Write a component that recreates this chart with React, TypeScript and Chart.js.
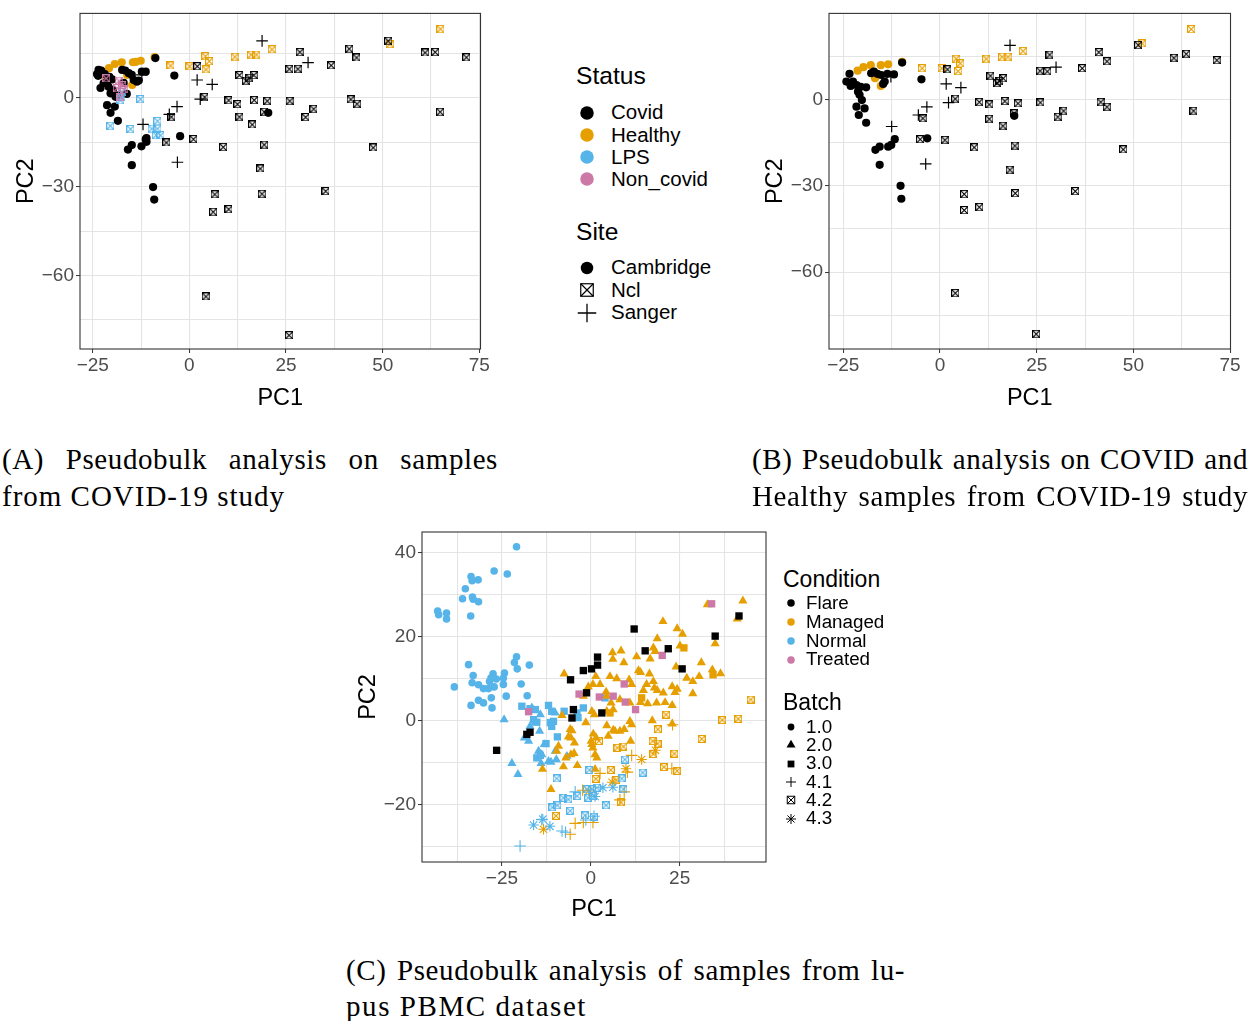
import React, { useEffect, useLayoutEffect, useRef } from 'react';
import { Chart, registerables } from 'chart.js';

Chart.register(...registerables);

type P = [number, number];

const BLACK = '#000000';
const ORANGE = '#E69F00';
const BLUE = '#56B4E9';
const PINK = '#CC79A7';

// ---------- Panel A : all samples ----------
const aCovidCambridge: P[] = [
  [-22.8, 9.3], [-23.6, 7.5], [-21.9, 8.1], [-20.7, 7.2], [-21.3, 5.5], [-20.0, 6.3], [-22.2, 5.0], [-20.9, 3.8],
  [-19.8, 2.7], [-20.4, 1.6], [-19.1, 0.4], [-21.3, -2.4], [-19.3, -2.9], [-20.4, -5.0], [-18.5, -7.7], [-16.6, 9.3],
  [-15.7, 8.4], [-14.9, 7.8], [-14.4, 6.1], [-13.1, 5.9], [-12.3, 8.9], [-11.3, 8.9], [-13.6, 5.5], [-8.8, 13.5],
  [-3.9, 7.6], [-2.4, -12.9], [-11.3, -14.0], [-12.4, -16.3], [-14.9, -15.9], [-15.9, -17.4], [-14.9, -22.7],
  [-18.7, 1.0], [-17.4, 9.5], [-23.9, 8.1], [-11.1, -14.8], [-11.1, -13.5], [-9.4, -30.1], [-9.1, -34.3],
  [20.4, -5.0], [-23.0, 3.4], [-23.5, 9.5], [-17.0, 5.1], [-16.2, 1.4],
];
const aHealthyCambridge: P[] = [
  [-20.8, 10.1], [-19.3, 11.5], [-17.5, 12.1], [-14.6, 12.1], [-12.6, 12.6], [-9.0, 13.8], [-16.1, 7.8],
  [-14.8, 4.4], [-22.2, 7.8], [-13.9, 12.2],
];
const aHealthyNcl: P[] = [
  [64.9, 23.4], [-4.9, 11.0], [0, 10.8], [4.1, 14.2], [5.1, 12.5], [4.2, 9.7], [11.7, 14.0], [15.9, 14.7],
  [17.3, 14.7], [21.3, 16.5], [51.8, 18.3],
];
const aCovidNcl: P[] = [
  [2.0, 10.8], [28.5, 15.6], [41.3, 16.7], [43.2, 13.7], [51.4, 19.4], [60.9, 15.4], [63.5, 15.6], [71.6, 13.8],
  [25.8, 9.9], [28.0, 9.9], [36.6, 11.1], [12.9, 7.8], [14.6, 5.9], [15.5, 6.9], [16.6, 7.8], [3.9, 0.4],
  [10.1, -0.7], [12.4, -2.0], [16.7, -0.6], [20.1, -0.9], [25.9, -0.9], [41.7, -0.4], [43.3, -1.9], [64.8, -4.6],
  [19.3, -4.6], [32.1, -3.6], [30.0, -6.4], [12.9, -6.3], [16.2, -8.9], [-4.7, -6.3], [-6.0, -15.0], [1.0, -13.8],
  [8.7, -16.5], [19.3, -15.7], [47.5, -16.7], [18.3, -23.8], [6.5, -32.5], [18.7, -32.3], [35.2, -31.4],
  [6.1, -38.4], [10.1, -37.5], [4.2, -67.0], [25.7, -80.1],
];
const aCovidSanger: P[] = [
  [18.8, 19.3], [30.7, 12.0], [2.0, 6.1], [5.9, 4.6], [2.8, -0.4], [-3.2, -2.9], [-5.2, -5.5], [-12.0, -8.9],
  [-3.1, -21.7], [-12.3, 7.8],
];
const aLpsNcl: P[] = [
  [-12.7, -0.3], [-20.5, -9.3], [-15.3, -10.4], [-8.3, -7.7], [-9.8, -10.3], [-8.3, -10.3], [-8.7, -12.5],
  [-7.5, -12.5], [-17.5, 2.1], [-17.7, 0.2], [-17.9, -0.7],
];
const aNonCovidNcl: P[] = [
  [-18.3, 5.9], [-17.4, 4.4], [-17.0, 2.9], [-17.9, 0.4], [-21.6, 6.7], [-18.8, 3.4],
];

// ---------- Panel B : COVID and Healthy ----------
const bCovidCambridge: P[] = [
  [-23.4, 8.9], [-24.2, 6.2], [-22.5, 6.2], [-23.1, 4.7], [-21.6, 5.0], [-20.5, 4.4], [-19.1, 4.2], [-21.2, 2.7],
  [-20.8, 1.6], [-20.2, -0.2], [-21.6, -2.5], [-19.5, -3.1], [-21.0, -5.4], [-19.1, -8.1], [-17.8, 9.1],
  [-17.1, 9.7], [-16.2, 8.9], [-15.2, 8.5], [-13.6, 8.9], [-11.9, 8.7], [-14.3, 6.2], [-14.7, 5.4], [-9.8, 12.8],
  [-4.8, 7.0], [-3.3, -13.5], [-11.7, -13.8], [-12.6, -15.8], [-13.4, -16.4], [-15.6, -16.4], [-16.7, -17.5],
  [-15.6, -22.7], [-10.2, -30.0], [-10.0, -34.5], [19.2, -5.7],
];
const bHealthyCambridge: P[] = [
  [-21.3, 10.0], [-19.8, 11.2], [-17.9, 11.9], [-15.3, 11.9], [-13.4, 12.2], [-9.8, 13.1], [-16.8, 7.4], [-15.3, 4.7],
];
const bHealthyNcl: P[] = [
  [64.9, 24.5], [-4.7, 10.9], [0.4, 10.9], [4.1, 14.2], [5.2, 12.6], [4.6, 9.9], [11.9, 14.2], [16.0, 14.9],
  [17.5, 14.9], [21.4, 16.9], [52.2, 19.5],
];
const bCovidNcl: P[] = [
  [1.9, 10.5], [28.3, 15.6], [41.0, 16.5], [43.1, 13.3], [51.2, 19.0], [60.4, 14.5], [63.6, 15.9], [71.5, 13.7],
  [25.8, 10.0], [27.7, 9.8], [36.7, 10.9], [13.0, 8.3], [14.7, 5.8], [15.3, 6.5], [16.3, 7.4], [3.9, 0.3],
  [10.1, -0.8], [12.7, -1.7], [16.7, -0.5], [20.1, -1.3], [25.9, -1.0], [41.5, -0.8], [43.1, -2.5], [65.5, -3.9],
  [19.1, -4.8], [31.9, -3.9], [30.4, -6.0], [12.7, -6.7], [16.2, -9.1], [-4.5, -6.5], [-5.2, -13.8], [1.2, -14.0],
  [8.8, -16.6], [19.3, -16.0], [47.3, -17.3], [18.0, -24.4], [6.2, -32.8], [19.4, -32.5], [34.9, -31.8],
  [6.2, -38.4], [10.1, -37.3], [3.9, -67.2], [24.8, -81.4],
];
const bCovidSanger: P[] = [
  [18.1, 18.8], [30.0, 11.2], [1.6, 5.4], [5.4, 4.1], [2.2, -1.1], [-3.4, -2.6], [-5.6, -5.4], [-12.5, -9.4],
  [-3.7, -22.4], [-12.7, 7.9],
];

// ---------- Panel C : lupus PBMC ----------
const cNormal10: P[] = [
  [-20.9, 41.4], [-27.2, 35.6], [-23.5, 34.9], [-33.7, 34.3], [-31.7, 33.5], [-33.4, 33.3], [-35.3, 31.4],
  [-36.1, 29.0], [-33.3, 29.4], [-33.1, 28.9], [-31.6, 28.3], [-43.1, 26.1], [-40.6, 25.6], [-42.8, 25.2],
  [-40.6, 24.2], [-33.8, 24.9], [-20.9, 15.2], [-21.5, 13.8], [-34.4, 13.3], [-17.3, 13.2], [-20.7, 12.3],
  [-33.1, 10.7], [-27.5, 11.1], [-24.3, 11.3], [-28.1, 10.1], [-26.6, 9.9], [-24.6, 10.1], [-33.4, 9.0],
  [-31.6, 8.5], [-30.2, 7.6], [-28.8, 7.6], [-28.5, 9.3], [-27.2, 8.0], [-24.6, 8.6], [-19.6, 8.7], [-38.4, 8.0],
  [-23.8, 5.8], [-17.9, 5.9], [-28.0, 5.4], [-31.6, 4.8], [-33.7, 3.6], [-30.2, 4.2], [-27.8, 3.0],
];
const cFlare30: P[] = [
  [12.2, 21.8], [15.3, 16.6], [21.8, 17.1], [1.9, 15.1], [1.9, 13.2], [0.2, 12.3], [-2.1, 11.9], [-5.7, 9.7],
  [-1.2, 6.6], [25.7, 12.3], [35.0, 20.1], [41.7, 24.9], [-4.9, 2.6], [-5.3, 0.6], [3.1, 1.8], [-17.1, -2.8],
  [-18.0, -3.3], [-26.5, -7.1],
];
const cTreated30: P[] = [
  [34.0, 27.8], [20.1, 15.5], [9.4, 8.7], [-3.3, 6.3], [2.4, 5.6], [6.3, 5.8], [9.7, 4.4], [12.6, 2.6], [-17.5, 2.1],
];
const cManaged30: P[] = [[26.2, 17.3], [34.4, 10.9], [14.3, 5.4], [5.4, 1.8]];
const cManaged20: P[] = [
  [42.8, 28.5], [32.8, 27.6], [41.2, 24.2], [20.3, 23.6], [24.3, 21.9], [25.8, 20.6], [18.7, 19.5], [35.0, 18.3],
  [25.1, 17.8], [17.6, 17.3], [18.1, 16.5], [6.1, 16.2], [8.5, 16.6], [12.9, 15.2], [16.7, 14.7], [6.2, 14.6],
  [9.3, 13.8], [31.1, 13.8], [24.0, 12.8], [13.4, 11.9], [14.0, 11.5], [16.5, 11.1], [34.2, 12.1], [36.5, 11.2],
  [30.5, 10.5], [27.0, 10.1], [28.7, 9.3], [5.4, 10.5], [7.3, 10.0], [1.4, 10.5], [-7.5, 11.1], [10.8, 9.7],
  [11.5, 8.6], [15.7, 8.6], [17.6, 9.3], [17.9, 7.8], [18.7, 7.2], [20.4, 6.6], [22.9, 8.1], [24.3, 7.5],
  [23.7, 6.7], [28.7, 6.4], [-0.7, 8.0], [0.6, 8.6], [2.6, 8.6], [4.3, 6.8], [-2.1, 5.8], [4.5, 5.8], [14.8, 7.2],
  [8.2, 5.0], [11.0, 4.2], [14.0, 4.3], [16.0, 4.0], [18.5, 4.2], [20.9, 4.3], [22.9, 3.6], [5.7, 4.2], [6.3, 2.6],
  [4.5, 2.2], [0.3, 2.2], [1.0, 1.4], [-8.1, 1.2], [-1.4, -0.5], [-5.3, -2.4], [-6.3, -3.9], [0.7, -3.2],
  [4.5, -1.2], [6.3, -2.3], [8.2, -2.5], [9.4, -2.1], [11.0, -0.2], [11.5, -1.0], [17.3, 0.0], [22.9, -0.8],
  [0.1, -4.9], [1.5, -4.1], [4.9, -3.7], [11.2, -4.9], [-4.6, -5.3], [-9.1, -6.1], [0.6, -6.5], [1.2, -8.1],
  [-5.6, -8.1], [-4.7, -7.8], [1.7, -8.9], [-7.0, -8.9], [-9.6, -7.3], [-3.8, -10.7], [-7.7, -11.0],
  [-13.6, -11.6], [1.2, -11.6], [-11.2, -16.4], [-5.8, -2.1], [6.8, -2.5], [-5.6, -4.1], [0.3, -5.7],
];
const cNormal30: P[] = [
  [-19.4, 3.4], [-17.1, 2.8], [-15.6, 2.6], [-11.9, 3.6], [-11.0, 2.2], [-7.5, 2.2], [-3.9, 1.8], [-2.1, 3.0],
  [-16.1, 0.2], [-15.2, -0.4], [-11.4, -0.5], [-10.5, -0.2], [-11.0, -1.4], [-9.4, -3.9], [-12.6, -5.5],
  [-15.2, -8.9], [-14.2, -8.3], [4.0, 5.4], [-3.6, 0.7],
];
const cNormal20: P[] = [
  [-24.4, 0.2], [-16.6, 3.0], [-14.2, 1.4], [-15.6, -0.5], [-17.1, -1.4], [-14.4, -2.5], [-18.7, -4.1],
  [-17.5, -4.9], [-14.7, -7.3], [-13.8, -8.1], [-10.0, -7.3], [-9.7, -9.3], [-11.9, -9.7], [-14.0, -10.2],
  [-11.2, -9.9], [-22.2, -10.2], [-20.5, -12.8], [-10.0, 1.8], [-6.7, -8.5], [-13.1, -5.7],
];
const cNormal42: P[] = [
  [9.6, -9.3], [14.6, -12.4], [-0.4, -11.8], [-9.6, -13.8], [8.7, -13.8], [9.2, -16.4], [-3.8, -18.0],
  [-1.1, -16.4], [0.3, -16.4], [-7.7, -18.4], [-6.3, -18.8], [4.3, -20.2], [-10.8, -20.7], [-9.4, -20.2],
  [-5.8, -21.5], [-1.6, -22.6], [0.9, -22.9], [0.7, -18.0], [-0.7, -18.4], [1.7, -16.0],
];
const cManaged42: P[] = [
  [45.0, 5.0], [41.5, 0.4], [37.0, 0.1], [31.2, -4.4], [21.2, 1.4], [18.9, -2.1], [17.4, -4.9], [18.8, -5.5],
  [17.6, -8.0], [23.5, -7.9], [20.6, -11.1], [24.3, -12.0], [7.5, -6.5], [9.2, -6.2], [2.3, -4.9], [5.6, -11.8],
  [1.4, -13.9], [7.2, -14.2], [8.5, -19.5], [-9.8, -22.7],
];
const cManaged41: P[] = [
  [23.0, -1.0], [11.5, -8.3], [10.3, -12.3], [22.8, -11.5], [2.6, -12.6], [-2.3, -16.6], [8.2, -18.9],
  [-4.4, -24.5], [-2.1, -24.3], [-5.8, -27.1], [0.6, -24.3], [9.4, -17.0],
];
const cNormal41: P[] = [
  [-19.9, -29.9], [-4.4, -17.0], [-13.8, -23.6], [-8.1, -26.3], [-7.1, -26.6], [0.9, -22.8], [-1.4, -23.7],
];
const cManaged43: P[] = [[14.3, -9.3], [9.9, -11.5], [18.2, -7.1], [-13.3, -25.9], [6.0, -14.7], [-0.6, -16.8]];
const cNormal43: P[] = [[-16.1, -24.9], [-11.5, -25.2], [3.4, -16.0], [1.2, -18.1], [6.2, -15.9], [-13.5, -23.5]];

// ---------- axes ----------
const abXTicks = [-25, -12.5, 0, 12.5, 25, 37.5, 50, 62.5, 75];
const abXLabels = [-25, 0, 25, 50, 75];
const abYTicks = [15, 0, -15, -30, -45, -60, -75];
const abYLabels = [0, -30, -60];
const cXTicks = [-37.5, -25, -12.5, 0, 12.5, 25, 37.5];
const cXLabels = [-25, 0, 25];
const cYTicks = [40, 30, 20, 10, 0, -10, -20, -30];
const cYLabels = [40, 20, 0, -20];

// ---------- legends ----------
const statusLabels = ['Covid', 'Healthy', 'LPS', 'Non_covid'];
const statusColors = [BLACK, ORANGE, BLUE, PINK];
const siteLabels = ['Cambridge', 'Ncl', 'Sanger'];
const conditionLabels = ['Flare', 'Managed', 'Normal', 'Treated'];
const batchLabels = ['1.0', '2.0', '3.0', '4.1', '4.2', '4.3'];

const SANS = '"Liberation Sans", Arial, sans-serif';
const SERIF = '"Liberation Serif", "Times New Roman", serif';

const fmt = (v: number) => (v < 0 ? '\u2212' + Math.abs(v) : String(v));

function boxX(color: string, size: number, lw: number) {
  const c = document.createElement('canvas');
  c.width = size;
  c.height = size;
  const g = c.getContext('2d')!;
  g.strokeStyle = color;
  g.lineWidth = lw;
  const h = lw / 2;
  g.strokeRect(h, h, size - lw, size - lw);
  g.beginPath();
  g.moveTo(h, h);
  g.lineTo(size - h, size - h);
  g.moveTo(size - h, h);
  g.lineTo(h, size - h);
  g.stroke();
  return c;
}

function ds(pts: P[], style: any, color: string, r: number, bw: number, fill = true) {
  return {
    data: pts.map(([x, y]) => ({ x, y })),
    pointStyle: style,
    pointRadius: r,
    pointHoverRadius: r,
    pointBackgroundColor: fill ? color : 'rgba(0,0,0,0)',
    pointBorderColor: color,
    pointBorderWidth: bw,
    backgroundColor: fill ? color : 'rgba(0,0,0,0)',
    borderColor: color,
    showLine: false,
  };
}

const panelBorder = {
  id: 'panelBorder',
  afterDatasetsDraw(chart: any) {
    const { ctx, chartArea: a } = chart;
    ctx.save();
    ctx.strokeStyle = '#333333';
    ctx.lineWidth = 1.1;
    ctx.strokeRect(a.left, a.top, a.right - a.left, a.bottom - a.top);
    ctx.restore();
  },
};

function axis(min: number, max: number, ticks: number[], labels: number[], isX: boolean, fit: number) {
  return {
    type: 'linear',
    position: isX ? 'bottom' : 'left',
    min,
    max,
    afterBuildTicks: (s: any) => {
      s.ticks = ticks.map((v) => ({ value: v }));
    },
    afterFit: (s: any) => {
      if (isX) s.height = fit;
      else s.width = fit;
    },
    grid: {
      color: '#E4E4E4',
      lineWidth: 1.1,
      drawTicks: true,
      tickLength: 4,
      tickWidth: 1,
      tickColor: (c: any) => (c.tick && labels.includes(c.tick.value) ? '#333333' : 'rgba(0,0,0,0)'),
    },
    border: { display: false },
    ticks: {
      autoSkip: false,
      maxRotation: 0,
      padding: isX ? 1 : 2,
      color: '#4D4D4D',
      font: { family: SANS, size: 19 },
      callback: (v: any) => (labels.includes(v) ? fmt(v) : ''),
    },
    title: {
      display: true,
      text: isX ? 'PC1' : 'PC2',
      color: '#000000',
      font: { family: SANS, size: 23.5 },
      padding: 0,
    },
  };
}

type Cfg = {
  xr: [number, number];
  yr: [number, number];
  xt: number[];
  xl: number[];
  yt: number[];
  yl: number[];
  pad: { left: number; top: number; right: number; bottom: number };
  yw: number;
  xh: number;
};

function build(canvas: HTMLCanvasElement, cfg: Cfg, datasets: any[]) {
  return new Chart(canvas, {
    type: 'scatter',
    data: { datasets },
    options: {
      animation: false,
      responsive: false,
      maintainAspectRatio: false,
      events: [],
      layout: { padding: cfg.pad },
      plugins: { legend: { display: false }, tooltip: { enabled: false } },
      scales: {
        x: axis(cfg.xr[0], cfg.xr[1], cfg.xt, cfg.xl, true, cfg.xh) as any,
        y: axis(cfg.yr[0], cfg.yr[1], cfg.yt, cfg.yl, false, cfg.yw) as any,
      },
    },
    plugins: [panelBorder],
  } as any);
}

function ChartBox(props: { left: number; top: number; width: number; height: number; make: (c: HTMLCanvasElement) => Chart }) {
  const ref = useRef<HTMLCanvasElement>(null);
  useEffect(() => {
    const chart = props.make(ref.current!);
    return () => chart.destroy();
  }, []);
  return (
    <canvas
      ref={ref}
      width={props.width}
      height={props.height}
      style={{ position: 'absolute', left: props.left, top: props.top, width: props.width, height: props.height }}
    />
  );
}

function makeA(c: HTMLCanvasElement) {
  const bx = (col: string) => boxX(col, 8.5, 1.15);
  return build(
    c,
    {
      xr: [-28.3, 75.3], yr: [-84.8, 28.6], xt: abXTicks, xl: abXLabels, yt: abYTicks, yl: abYLabels,
      pad: { left: 12, top: 13.3, right: 19.5, bottom: 0 }, yw: 68, xh: 64,
    },
    [
      ds(aCovidSanger, 'cross', BLACK, 5.8, 1.2, false),
      ds(aCovidNcl, bx(BLACK), BLACK, 4, 1),
      ds(aNonCovidNcl, bx(PINK), PINK, 4, 1),
      ds(aLpsNcl, bx(BLUE), BLUE, 4, 1),
      ds(aHealthyNcl, bx(ORANGE), ORANGE, 4, 1),
      ds(aCovidCambridge, 'circle', BLACK, 4.1, 0),
      ds(aHealthyCambridge, 'circle', ORANGE, 4.1, 0),
    ]
  );
}

function makeB(c: HTMLCanvasElement) {
  const bx = (col: string) => boxX(col, 8.5, 1.15);
  return build(
    c,
    {
      xr: [-28.7, 75.1], yr: [-86.7, 29.9], xt: abXTicks, xl: abXLabels, yt: abYTicks, yl: abYLabels,
      pad: { left: 11, top: 13.3, right: 19.5, bottom: 0 }, yw: 68, xh: 64,
    },
    [
      ds(bCovidSanger, 'cross', BLACK, 5.8, 1.2, false),
      ds(bCovidNcl, bx(BLACK), BLACK, 4, 1),
      ds(bHealthyNcl, bx(ORANGE), ORANGE, 4, 1),
      ds(bCovidCambridge, 'circle', BLACK, 4.1, 0),
      ds(bHealthyCambridge, 'circle', ORANGE, 4.1, 0),
    ]
  );
}

function makeC(c: HTMLCanvasElement) {
  const bx = (col: string) => boxX(col, 8, 1.1);
  return build(
    c,
    {
      xr: [-47.5, 49.3], yr: [-33.7, 44.9], xt: cXTicks, xl: cXLabels, yt: cYTicks, yl: cYLabels,
      pad: { left: 14, top: 32, right: 14, bottom: 0 }, yw: 68, xh: 62,
    },
    [
      ds(cFlare30, 'rect', BLACK, 5.2, 0),
      ds(cTreated30, 'rect', PINK, 5.2, 0),
      ds(cManaged30, 'rect', ORANGE, 5.2, 0),
      ds(cNormal43, 'star', BLUE, 5.2, 1.1, false),
      ds(cNormal41, 'cross', BLUE, 5.8, 1.1, false),
      ds(cNormal42, bx(BLUE), BLUE, 4, 1),
      ds(cManaged43, 'star', ORANGE, 5.2, 1.1, false),
      ds(cManaged41, 'cross', ORANGE, 5.8, 1.1, false),
      ds(cManaged42, bx(ORANGE), ORANGE, 4, 1),
      ds(cManaged20, 'triangle', ORANGE, 5.3, 0),
      ds(cNormal30, 'rect', BLUE, 5.2, 0),
      ds(cNormal20, 'triangle', BLUE, 5.3, 0),
      ds(cNormal10, 'circle', BLUE, 3.8, 0),
    ]
  );
}

function Mk(props: { kind: string; cx: number; cy: number; color: string; s: number; lw?: number }) {
  const { kind, cx, cy, color, s } = props;
  const lw = props.lw ?? 1;
  const c = 12;
  const h = s / 2;
  let el: any = null;
  if (kind === 'circle') el = <circle cx={c} cy={c} r={h} fill={color} />;
  else if (kind === 'square') el = <rect x={c - h} y={c - h} width={s} height={s} fill={color} />;
  else if (kind === 'tri')
    el = <polygon points={`${c},${c - s * 0.577} ${c - h},${c + s * 0.289} ${c + h},${c + s * 0.289}`} fill={color} />;
  else if (kind === 'box')
    el = (
      <g stroke={color} strokeWidth={lw} fill="none">
        <rect x={c - h} y={c - h} width={s} height={s} />
        <path d={`M${c - h} ${c - h}L${c + h} ${c + h}M${c + h} ${c - h}L${c - h} ${c + h}`} />
      </g>
    );
  else if (kind === 'plus')
    el = <path d={`M${c - h} ${c}L${c + h} ${c}M${c} ${c - h}L${c} ${c + h}`} stroke={color} strokeWidth={lw} />;
  else if (kind === 'star') {
    const d = h * 0.7071;
    el = (
      <path
        d={`M${c - h} ${c}L${c + h} ${c}M${c} ${c - h}L${c} ${c + h}M${c - d} ${c - d}L${c + d} ${c + d}M${c + d} ${c - d}L${c - d} ${c + d}`}
        stroke={color}
        strokeWidth={lw}
      />
    );
  }
  return (
    <svg width={24} height={24} style={{ position: 'absolute', left: cx - c, top: cy - c, overflow: 'visible' }}>
      {el}
    </svg>
  );
}

function Txt(props: { x: number; cy: number; fs: number; children: any }) {
  return (
    <div
      style={{
        position: 'absolute',
        left: props.x,
        top: props.cy - 0.49 * props.fs,
        fontFamily: SANS,
        fontSize: props.fs,
        lineHeight: props.fs + 'px',
        color: '#000',
        whiteSpace: 'nowrap',
      }}
    >
      {props.children}
    </div>
  );
}

// justified caption lines stretch their spaces; last lines widen letters instead
function CapLine(props: { text: string; left: number; cy: number; width: number; last?: boolean }) {
  const ref = useRef<HTMLSpanElement>(null);
  useLayoutEffect(() => {
    const el = ref.current!;
    if (props.last) {
      el.style.letterSpacing = '0px';
      const w = el.getBoundingClientRect().width;
      el.style.letterSpacing = (props.width - w) / props.text.length + 'px';
    } else {
      el.style.wordSpacing = '0px';
      const w = el.getBoundingClientRect().width;
      const n = (props.text.match(/ /g) || []).length;
      if (n) el.style.wordSpacing = (props.width - w) / n + 'px';
    }
  }, []);
  return (
    <span
      ref={ref}
      style={{
        position: 'absolute',
        left: props.left,
        top: props.cy - 18.2,
        whiteSpace: 'pre',
        fontFamily: SERIF,
        fontSize: 29,
        letterSpacing: '0.6px',
        lineHeight: '36px',
        color: '#000',
      }}
    >
      {props.text}
    </span>
  );
}

export default function App() {
  const statusY = [112.5, 134.7, 156.8, 179];
  const siteY = [267.5, 290, 312.5];
  const condY = [603, 622, 641, 659.5];
  const batchY = [727, 745.3, 763.6, 781.9, 800.2, 818.5];
  const batchKinds = ['circle', 'tri', 'square', 'plus', 'box', 'star'];
  const batchSizes = [6.8, 9, 6.8, 10, 7.5, 10];
  return (
    <div style={{ position: 'absolute', left: 0, top: 0, width: 1250, height: 1021, background: '#fff', overflow: 'hidden' }}>
      <ChartBox left={0} top={0} width={500} height={413} make={makeA} />
      <ChartBox left={750} top={0} width={500} height={413} make={makeB} />
      <ChartBox left={340} top={500} width={440} height={424} make={makeC} />

      {/* Legend A */}
      <Txt x={576} cy={76} fs={24.6}>Status</Txt>
      {statusLabels.map((l, i) => (
        <React.Fragment key={l}>
          <Mk kind="circle" cx={586.5} cy={statusY[i]} color={statusColors[i]} s={13.5} />
          <Txt x={611} cy={statusY[i]} fs={20.5}>{l}</Txt>
        </React.Fragment>
      ))}
      <Txt x={576} cy={232} fs={24.6}>Site</Txt>
      <Mk kind="circle" cx={586.5} cy={siteY[0]} color={BLACK} s={12.5} />
      <Mk kind="box" cx={586.5} cy={siteY[1]} color={BLACK} s={12.5} lw={1.2} />
      <Mk kind="plus" cx={586.5} cy={siteY[2]} color={BLACK} s={18.5} lw={1.3} />
      {siteLabels.map((l, i) => (
        <Txt key={l} x={611} cy={siteY[i]} fs={20.5}>{l}</Txt>
      ))}

      {/* Legend C */}
      <Txt x={783} cy={579} fs={23}>Condition</Txt>
      {conditionLabels.map((l, i) => (
        <React.Fragment key={l}>
          <Mk kind="circle" cx={790.5} cy={condY[i]} color={statusColors[i]} s={7.5} />
          <Txt x={806} cy={condY[i]} fs={18.8}>{l}</Txt>
        </React.Fragment>
      ))}
      <Txt x={783} cy={702.5} fs={23}>Batch</Txt>
      {batchLabels.map((l, i) => (
        <React.Fragment key={l}>
          <Mk kind={batchKinds[i]} cx={790.5} cy={batchY[i]} color={BLACK} s={batchSizes[i]} lw={1} />
          <Txt x={806} cy={batchY[i]} fs={18.8}>{l}</Txt>
        </React.Fragment>
      ))}

      {/* Captions */}
      <CapLine text="(A) Pseudobulk analysis on samples" left={2} cy={459.5} width={496} />
      <CapLine text="from COVID-19 study" left={2} cy={496} width={283} last />
      <CapLine text="(B) Pseudobulk analysis on COVID and" left={752} cy={459.5} width={496} />
      <CapLine text="Healthy samples from COVID-19 study" left={752} cy={496} width={496} />
      <CapLine text="(C) Pseudobulk analysis of samples from lu-" left={346} cy={970} width={559} />
      <CapLine text="pus PBMC dataset" left={346} cy={1006} width={241} last />
    </div>
  );
}
